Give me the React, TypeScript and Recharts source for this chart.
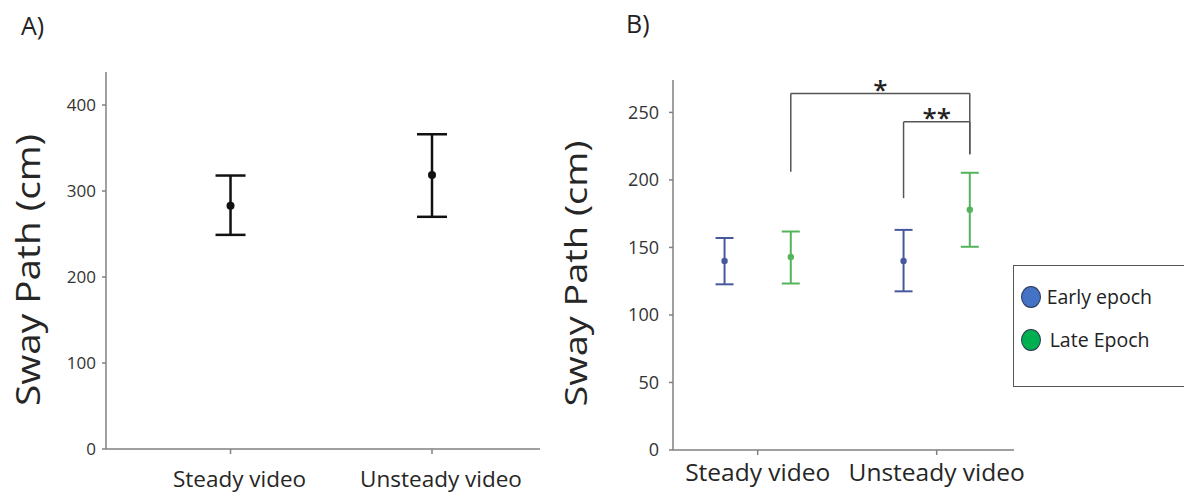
import React from 'react';
import { ScatterChart, Scatter, XAxis, YAxis, ErrorBar, ReferenceLine, Legend } from 'recharts';

const categories = ['Steady video', 'Unsteady video'];
const yAxisTitle = 'Sway Path (cm)';

// A) sway path per video condition (mean with CI bounds)
const pooledMean = [283, 318.5];
const pooledLower = [249, 270];
const pooledUpper = [318, 366];
const ticksA = [0, 100, 200, 300, 400];

// B) same conditions split into early / late epoch
const earlyMean = [140, 140];
const earlyLower = [122.7, 117.5];
const earlyUpper = [157, 163];
const lateMean = [143, 178];
const lateLower = [123.3, 150.5];
const lateUpper = [161.8, 205.3];
const ticksB = [0, 50, 100, 150, 200, 250];

// significance brackets: bar height, leg ends, star text
const bracketLabels = ['*', '**'];
const bracketY = [264, 243];
const bracketLeftEnd = [206, 186.5];
const bracketRightEnd = [219, 219];

const groupShift = 0.185;
const FONT = '"Open Sans", sans-serif';
const AXIS = '#808080';
const EARLY_BAR = '#46599d';
const LATE_BAR = '#55b35b';
const EARLY_KEY = '#4472c4';
const LATE_KEY = '#00b050';

const toPoints = (mean: number[], lower: number[], upper: number[], shift: number) =>
  mean.map((m, i) => ({ x: i + shift, y: m, err: [m - lower[i], upper[i] - m] }));

const pooledData = toPoints(pooledMean, pooledLower, pooledUpper, 0);
const earlyData = toPoints(earlyMean, earlyLower, earlyUpper, -groupShift);
const lateData = toPoints(lateMean, lateLower, lateUpper, groupShift);

// bracket end points in data space
const brackets = bracketLabels.map((label, i) => ({
  label,
  x1: i === 0 ? groupShift : 1 - groupShift,
  x2: 1 + groupShift,
  y: bracketY[i],
  leftEnd: bracketLeftEnd[i],
  rightEnd: bracketRightEnd[i],
}));

const dot = (color: string, r: number) => (props: any) =>
  <circle cx={props.cx} cy={props.cy} r={r} fill={color} />;

const yTitle = (dx: number, dy: number, size: number, len: number) => (props: any) => {
  const { x, y, height } = props.viewBox;
  const cx = x + dx;
  const cy = y + height / 2 + dy;
  return (
    <text x={cx} y={cy} transform={`rotate(-90 ${cx} ${cy})`} textAnchor="middle" dominantBaseline="central"
      fontFamily={FONT} fontSize={size} fill="#262626" textLength={len} lengthAdjust="spacingAndGlyphs">
      {yAxisTitle}
    </text>
  );
};

const starLabel = (text: string) => (props: any) => {
  const { x, y, width } = props.viewBox;
  return (
    <text x={x + width / 2} y={y + 5} textAnchor="middle" fontFamily={FONT} fontSize={26} fontWeight={600} fill="#222">
      {text}
    </text>
  );
};

const EpochLegend = (props: any) => (
  <div style={{ width: 190, height: 122, boxSizing: 'border-box', border: '1.5px solid #555', background: '#fff', position: 'relative' }}>
    {(props.payload || []).map((entry: any, i: number) => (
      <div key={entry.value} style={{ position: 'absolute', left: 7, top: 19 + i * 43, display: 'flex', alignItems: 'center', height: 24 }}>
        <span style={{ width: 20, height: 22, borderRadius: '50%', background: entry.color, border: '1.5px solid #2b3a55', boxSizing: 'border-box' }} />
        <span style={{ marginLeft: i === 0 ? 6 : 9, fontFamily: FONT, fontSize: 19.5, color: '#222', lineHeight: '24px' }}>{entry.value}</span>
      </div>
    ))}
  </div>
);

const panelTag: React.CSSProperties = { position: 'absolute', fontFamily: FONT, fontSize: 25, lineHeight: 1, color: '#222' };

export default function App() {
  return (
    <div style={{ position: 'absolute', left: 0, top: 0, width: 1184, height: 495, background: '#fff', overflow: 'hidden' }}>
      <div style={{ ...panelTag, left: 21, top: 13 }}>A)</div>
      <div style={{ ...panelTag, left: 626, top: 11 }}>B)</div>

      <div style={{ position: 'absolute', left: 0, top: 0 }}>
        <ScatterChart width={540} height={495} margin={{ top: 72, right: 0, bottom: 6, left: 46 }}>
          <XAxis type="number" dataKey="x" domain={[-0.618, 1.536]} ticks={[0, 1]} height={40}
            tickFormatter={(v: number) => categories[v]} tickSize={5} tickMargin={17}
            axisLine={{ stroke: AXIS, strokeWidth: 1.5 }} tickLine={{ stroke: AXIS, strokeWidth: 1.5 }}
            tick={{ fontFamily: FONT, fontSize: 22.5, fill: '#262626', dx: 9 }} />
          <YAxis type="number" dataKey="y" domain={[0, 438.4]} ticks={ticksA} width={60}
            tickSize={4} tickMargin={6}
            axisLine={{ stroke: AXIS, strokeWidth: 1.5 }} tickLine={{ stroke: AXIS, strokeWidth: 1.5 }}
            tick={{ fontFamily: FONT, fontSize: 17, fill: '#333' }}
            label={{ content: yTitle(-19, 9.5, 32, 272) }} />
          <Scatter data={pooledData} fill="#111" shape={dot('#111', 4)} isAnimationActive={false}>
            <ErrorBar dataKey="err" direction="y" width={15} stroke="#111" strokeWidth={2.5} isAnimationActive={false} />
          </Scatter>
        </ScatterChart>
      </div>

      <div style={{ position: 'absolute', left: 540, top: 0 }}>
        <ScatterChart width={644} height={495} margin={{ top: 80, right: 170, bottom: 5, left: 63 }}>
          <XAxis type="number" dataKey="x" domain={[-0.473, 1.432]} ticks={[0, 1]} height={40}
            tickFormatter={(v: number) => categories[v]} tickSize={5} tickMargin={9}
            axisLine={{ stroke: AXIS, strokeWidth: 1.5 }} tickLine={{ stroke: AXIS, strokeWidth: 1.5 }}
            tick={{ fontFamily: FONT, fontSize: 24.5, fill: '#262626' }} />
          <YAxis type="number" dataKey="y" domain={[0, 274]} ticks={ticksB} width={70}
            tickSize={4} tickMargin={10}
            axisLine={{ stroke: AXIS, strokeWidth: 1.5 }} tickLine={{ stroke: AXIS, strokeWidth: 1.5 }}
            tick={{ fontFamily: FONT, fontSize: 18, fill: '#333' }}
            label={{ content: yTitle(-28, 8.5, 31, 266) }} />
          {brackets.map((b) => (
            <ReferenceLine key={b.label} segment={[{ x: b.x1, y: b.y }, { x: b.x2, y: b.y }]}
              stroke="#555" strokeWidth={1.5} label={{ content: starLabel(b.label) }} />
          ))}
          {brackets.map((b) => (
            <ReferenceLine key={b.label + 'l'} segment={[{ x: b.x1, y: b.y }, { x: b.x1, y: b.leftEnd }]} stroke="#555" strokeWidth={1.5} />
          ))}
          {brackets.map((b) => (
            <ReferenceLine key={b.label + 'r'} segment={[{ x: b.x2, y: b.y }, { x: b.x2, y: b.rightEnd }]} stroke="#555" strokeWidth={1.5} />
          ))}
          <Scatter name="Early epoch" data={earlyData} fill={EARLY_KEY} shape={dot(EARLY_BAR, 3.2)} isAnimationActive={false}>
            <ErrorBar dataKey="err" direction="y" width={9} stroke={EARLY_BAR} strokeWidth={2} isAnimationActive={false} />
          </Scatter>
          <Scatter name="Late Epoch" data={lateData} fill={LATE_KEY} shape={dot(LATE_BAR, 3.2)} isAnimationActive={false}>
            <ErrorBar dataKey="err" direction="y" width={9} stroke={LATE_BAR} strokeWidth={2} isAnimationActive={false} />
          </Scatter>
          <Legend layout="horizontal" verticalAlign="middle" align="center" content={EpochLegend}
            wrapperStyle={{ position: 'absolute', left: 472.7, top: 265, width: 190, height: 122 }} />
        </ScatterChart>
      </div>
    </div>
  );
}
